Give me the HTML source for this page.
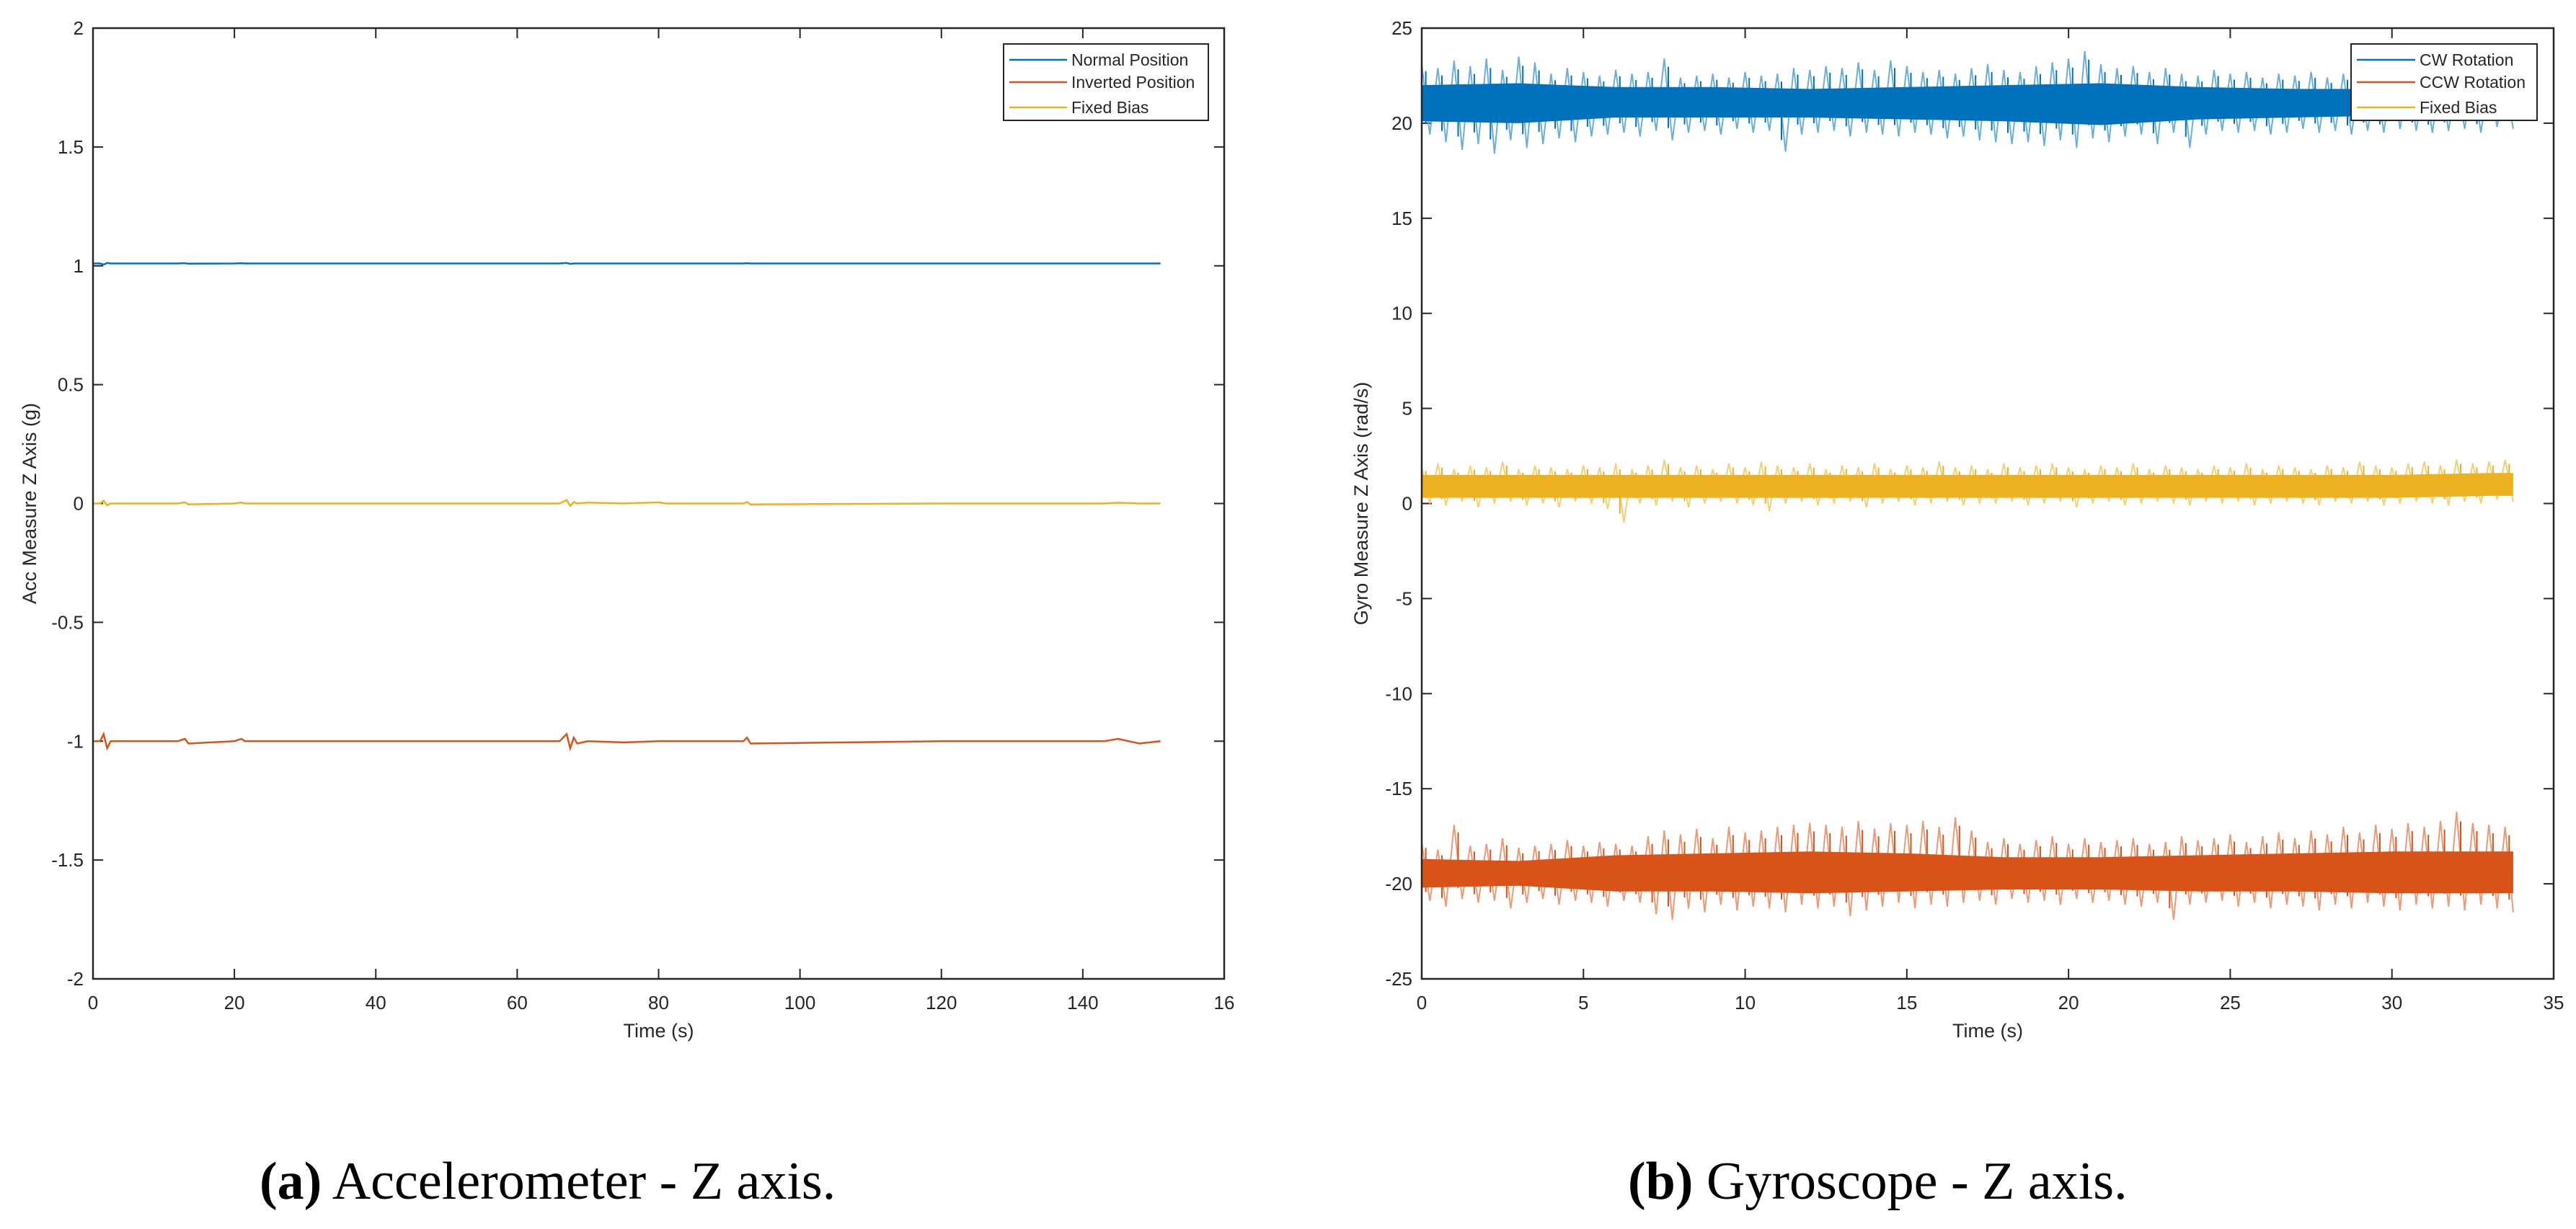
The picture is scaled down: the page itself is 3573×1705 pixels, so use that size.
<!DOCTYPE html>
<html><head><meta charset="utf-8"><style>
html,body{margin:0;padding:0;background:#fff;}
svg{display:block;}
text{font-family:"Liberation Sans",Arial,sans-serif;fill:#262626;}
.cap{font-family:"Liberation Serif",serif;fill:#000;font-size:74px;}
</style></head><body>
<svg id="fig" width="3573" height="1705" viewBox="0 0 3573 1705" xmlns="http://www.w3.org/2000/svg"></svg>
<script>
// ---------- Panel (a) data ----------
const accXTicks=[0,20,40,60,80,100,120,140,160];
const accXTickLabels=["0","20","40","60","80","100","120","140","16"];
const accYTicks=[-2,-1.5,-1,-0.5,0,0.5,1,1.5,2];
const accYTickLabels=["-2","-1.5","-1","-0.5","0","0.5","1","1.5","2"];
const accTimes=[0,1,1.5,2,2.5,12,13,13.5,20,21,21.5,40,66,67,67.5,68,68.5,70,75,80,81,92,92.5,93,120,143,145,148,151];
const accNormal=[1.01,1.01,1.005,1.012,1.01,1.01,1.011,1.009,1.01,1.011,1.01,1.01,1.01,1.012,1.008,1.01,1.01,1.01,1.01,1.01,1.01,1.01,1.011,1.01,1.01,1.01,1.01,1.01,1.01];
const accInverted=[-1.0,-1.0,-0.97,-1.03,-1.0,-1.0,-0.99,-1.01,-1.0,-0.99,-1.0,-1.0,-1.0,-0.97,-1.03,-0.985,-1.01,-1.0,-1.005,-1.0,-1.0,-1.0,-0.985,-1.01,-1.0,-1.0,-0.99,-1.01,-1.0];
const accBias=[0,0,0.012,-0.008,0,0,0.005,-0.004,0,0.004,0,0,0,0.015,-0.01,0.006,0,0.004,0,0.005,0,0,0.006,-0.004,0,0,0.003,0,0];

// ---------- Panel (b) data ----------
const gyrXTicks=[0,5,10,15,20,25,30,35];
const gyrXTickLabels=["0","5","10","15","20","25","30","35"];
const gyrYTicks=[-25,-20,-15,-10,-5,0,5,10,15,20,25];
const gyrYTickLabels=["-25","-20","-15","-10","-5","0","5","10","15","20","25"];
const gyrDT=0.5;
const cwHi=[23.1,22.9,23.3,23.0,23.4,22.8,23.5,23.2,22.6,22.9,22.7,22.5,22.8,22.6,22.7,23.4,22.4,22.5,22.6,22.4,22.7,22.5,22.6,22.9,22.8,23.0,22.9,23.2,22.8,23.3,23.0,22.7,22.8,22.6,22.9,23.1,22.8,22.7,23.0,23.2,23.4,23.8,23.1,22.9,23.0,22.7,22.9,22.6,22.5,22.8,22.6,22.7,22.4,22.6,22.5,22.7,22.4,22.6,22.5,22.4,22.7,22.5,22.3,22.6,22.4,22.5,22.3,22.4];
const cwLo=[19.4,19.0,18.6,18.9,18.4,19.1,18.7,18.9,19.2,19.0,19.3,19.4,19.5,19.3,19.6,19.1,19.5,19.6,19.4,19.7,19.5,19.6,18.5,19.4,19.5,19.6,19.3,19.5,19.4,19.3,19.5,19.4,19.2,19.3,19.1,19.0,18.9,19.0,18.8,19.1,18.7,19.2,19.0,19.3,19.4,18.9,19.5,18.7,19.4,19.6,19.5,19.6,19.4,19.5,19.7,19.5,19.6,19.4,19.6,19.5,19.7,19.6,19.5,19.6,19.7,19.5,19.8,19.7];
const ccwHi=[-17.8,-18.2,-16.9,-18.0,-17.9,-17.6,-18.1,-18.0,-17.9,-17.7,-18.0,-17.8,-17.9,-18.0,-17.5,-17.2,-17.4,-17.1,-17.6,-17.0,-17.3,-17.2,-17.0,-16.9,-16.8,-16.9,-17.0,-16.7,-17.1,-16.8,-16.9,-16.7,-17.0,-16.5,-17.2,-17.8,-17.6,-17.9,-17.7,-17.5,-17.9,-17.6,-17.8,-17.7,-17.6,-17.9,-17.8,-17.5,-17.7,-17.6,-17.4,-17.8,-17.5,-17.3,-17.6,-17.2,-17.4,-17.0,-17.3,-16.9,-17.1,-16.8,-17.0,-16.7,-16.2,-16.8,-16.9,-17.0];
const ccwLo=[-20.9,-21.2,-20.8,-21.0,-20.9,-21.3,-21.0,-20.8,-21.1,-20.9,-21.0,-21.2,-20.9,-21.0,-21.6,-21.9,-21.3,-21.5,-21.1,-21.4,-21.2,-21.3,-21.5,-21.1,-21.3,-21.2,-21.7,-21.4,-21.2,-21.0,-21.3,-21.1,-21.2,-21.0,-20.9,-21.1,-20.8,-21.0,-20.9,-21.1,-20.8,-21.0,-20.9,-21.1,-21.2,-21.0,-21.9,-21.1,-21.0,-20.9,-21.2,-21.0,-21.3,-21.1,-21.2,-21.4,-21.1,-21.3,-21.0,-21.2,-21.4,-21.1,-21.3,-21.2,-21.4,-21.1,-21.3,-21.5];
const biasHi=[1.9,2.1,1.8,2.0,1.9,2.2,1.8,2.0,1.9,1.8,2.0,1.9,2.1,1.8,2.0,2.3,1.9,2.0,1.8,2.1,1.9,2.2,2.0,1.9,2.1,1.8,2.0,1.9,2.1,1.8,2.0,1.9,2.2,1.9,2.0,1.8,2.1,1.9,2.0,2.1,1.9,1.8,2.0,1.9,2.1,1.8,2.0,1.9,1.8,2.0,1.9,2.1,1.8,2.0,1.9,1.8,2.0,1.9,2.2,2.0,1.9,2.1,2.2,2.0,2.3,2.1,2.2,2.3];
const biasLo=[0.0,-0.1,0.1,-0.2,0.0,0.1,-0.1,0.0,-0.2,0.1,0.0,-0.3,-1.0,0.0,-0.1,0.1,-0.2,0.0,0.1,0.0,-0.1,-0.4,0.0,0.1,-0.1,0.0,0.1,-0.2,0.0,0.1,-0.1,0.0,0.1,-0.1,0.0,0.0,0.1,-0.1,0.0,0.1,-0.2,0.0,0.1,-0.1,0.0,0.1,0.0,-0.1,0.1,0.0,0.1,-0.1,0.0,0.1,0.0,-0.1,0.1,0.0,0.1,-0.1,0.0,0.1,0.0,-0.1,0.1,0.0,0.2,0.1];
const coreDT=3;
const cwCoreHi=[22.0,22.1,21.9,21.9,21.8,21.9,22.0,22.1,21.9,21.8,21.8,21.8];
const cwCoreLo=[20.1,20.0,20.3,20.3,20.3,20.2,20.1,19.9,20.2,20.3,20.4,20.4];
const ccwCoreHi=[-18.7,-18.8,-18.5,-18.4,-18.3,-18.4,-18.6,-18.6,-18.5,-18.4,-18.3,-18.3];
const ccwCoreLo=[-20.2,-20.1,-20.4,-20.4,-20.5,-20.4,-20.3,-20.3,-20.4,-20.4,-20.5,-20.5];
const biasCoreHi=[1.5,1.5,1.5,1.5,1.5,1.5,1.5,1.5,1.5,1.5,1.5,1.6];
const biasCoreLo=[0.3,0.3,0.3,0.3,0.3,0.3,0.3,0.3,0.3,0.3,0.3,0.4];

const NS="http://www.w3.org/2000/svg";
const svg=document.getElementById('fig');
function mk(tag,attrs,parent){const e=document.createElementNS(NS,tag);for(const k in attrs)e.setAttribute(k,attrs[k]);(parent||svg).appendChild(e);return e;}
const C_BLUE="#0072BD",C_RED="#D95319",C_YEL="#EDB120";

function axes(P,xt,xtl,yt,ytl,xlabel,ylabel,ylx,name){
  const g=mk('g',{});
  
  
  const sx=v=>P.l+(v-P.x0)/(P.x1-P.x0)*(P.r-P.l);
  const sy=v=>P.b-(v-P.y0)/(P.y1-P.y0)*(P.b-P.t);
  P.sx=sx;P.sy=sy;P.g=g;
  xt.forEach((v,i)=>{const x=sx(v);
    const t1=mk('line',{x1:x,x2:x,y1:P.b,y2:P.b-14,stroke:'#262626','stroke-width':2},g);
    
    mk('line',{x1:x,x2:x,y1:P.t,y2:P.t+14,stroke:'#262626','stroke-width':2},g);
    const t=mk('text',{x:x,y:P.b+42,'text-anchor':'middle','font-size':26},g);t.textContent=xtl[i];
    });
  yt.forEach((v,i)=>{const y=sy(v);
    const t1=mk('line',{x1:P.l,x2:P.l+14,y1:y,y2:y,stroke:'#262626','stroke-width':2},g);
    
    mk('line',{x1:P.r,x2:P.r-14,y1:y,y2:y,stroke:'#262626','stroke-width':2},g);
    const t=mk('text',{x:P.l-13,y:y+9,'text-anchor':'end','font-size':26},g);t.textContent=ytl[i];
    });
  const xl=mk('text',{x:(P.l+P.r)/2,y:P.b+81,'text-anchor':'middle','font-size':27},g);xl.textContent=xlabel;
  
  const yl=mk('text',{x:ylx,y:(P.t+P.b)/2,'text-anchor':'middle','font-size':27,transform:`rotate(-90 ${ylx} ${(P.t+P.b)/2})`},g);yl.textContent=ylabel;
  
}
function box(P){const r=mk('rect',{x:P.l,y:P.t,width:P.r-P.l,height:P.b-P.t,fill:'none',stroke:'#262626','stroke-width':2.5},P.g);
  }
function legend(P,x,y,w,h,labels,colors,lineW,name){
  const g=mk('g',{},P.g);
  
  
  mk('rect',{x:x,y:y,width:w,height:h,fill:'#fff',stroke:'#262626','stroke-width':2},g);
  const rows=[22,53,88];
  labels.forEach((lb,i)=>{
    const l=mk('line',{x1:x+8,x2:x+8+lineW,y1:y+rows[i],y2:y+rows[i],stroke:colors[i],'stroke-width':2.5},g);
    
    const t=mk('text',{x:x+lineW+14,y:y+rows[i]+8,'font-size':23,fill:'#000'},g);t.textContent=lb;
    
  });
}

// Panel a
const PA={l:129,r:1698,t:39,b:1358,x0:0,x1:160,y0:-2,y1:2};
axes(PA,accXTicks,accXTickLabels,accYTicks,accYTickLabels,"Time (s)","Acc Measure Z Axis (g)",50,"accelerometer-chart");
[[accNormal,C_BLUE,'normal-position-line'],[accInverted,C_RED,'inverted-position-line'],[accBias,C_YEL,'fixed-bias-line']].forEach(([arr,c,n])=>{
  const d=arr.map((v,i)=>(i?'L':'M')+PA.sx(accTimes[i]).toFixed(1)+' '+PA.sy(v).toFixed(1)).join(' ');
  const p=mk('path',{d:d,fill:'none',stroke:c,'stroke-width':2.5},PA.g);
  
});
box(PA);
legend(PA,1392,61,284,106,["Normal Position","Inverted Position","Fixed Bias"],[C_BLUE,C_RED,C_YEL],80,"accelerometer-legend");

// Panel b
const PB={l:1972,r:3542,t:39,b:1358,x0:0,x1:35,y0:-25,y1:25};
axes(PB,gyrXTicks,gyrXTickLabels,gyrYTicks,gyrYTickLabels,"Time (s)","Gyro Measure Z Axis (rad/s)",1897,"gyroscope-chart");
const LIGHT={"#0072BD":"#6aaedb","#D95319":"#eb9a76","#EDB120":"#f4cf72"};
function gyroSeries(hi,lo,cHi,cLo,c,n){
  const g=mk('g',{},PB.g);
  
  
  const N=Math.min(hi.length,lo.length);
  let d='';
  for(let i=0;i<N;i++){
    const t=i*gyrDT;
    d+=(i?'L':'M')+PB.sx(t).toFixed(1)+' '+PB.sy(hi[i]).toFixed(1)+' L'+PB.sx(t+gyrDT/2).toFixed(1)+' '+PB.sy(lo[i]).toFixed(1)+' ';
  }
  const p=mk('path',{d:d,fill:'none',stroke:LIGHT[c],'stroke-width':2},g);
  
  
  const tEnd=(N-1)*gyrDT+gyrDT/2;
  const M=cHi.length;
  const xs=cHi.map((_,i)=>Math.min(i*coreDT,tEnd));
  let top=cHi.map((v,i)=>PB.sx(xs[i]).toFixed(1)+','+PB.sy(v).toFixed(1));
  top.push(PB.sx(tEnd).toFixed(1)+','+PB.sy(cHi[M-1]).toFixed(1));
  let bot=[PB.sx(tEnd).toFixed(1)+','+PB.sy(cLo[M-1]).toFixed(1)];
  for(let i=M-1;i>=0;i--)bot.push(PB.sx(xs[i]).toFixed(1)+','+PB.sy(cLo[i]).toFixed(1));
  const poly=mk('polygon',{points:top.concat(bot).join(' '),fill:c},g);
  
  
  let d2='';
  for(let i=0;i<N;i++){
    const t=i*gyrDT+gyrDT/4;
    const mid=(hi[i]+lo[i])/2;
    d2+='M'+PB.sx(t).toFixed(1)+' '+PB.sy(mid+(hi[i]-mid)*0.8).toFixed(1)+' L'+PB.sx(t).toFixed(1)+' '+PB.sy(mid-(mid-lo[i])*0.7).toFixed(1)+' ';
  }
  const p2=mk('path',{d:d2,fill:'none',stroke:c,'stroke-width':2},g);
  
  
}
gyroSeries(cwHi,cwLo,cwCoreHi,cwCoreLo,C_BLUE,'cw-rotation-series');
gyroSeries(ccwHi,ccwLo,ccwCoreHi,ccwCoreLo,C_RED,'ccw-rotation-series');
gyroSeries(biasHi,biasLo,biasCoreHi,biasCoreLo,C_YEL,'fixed-bias-series');
box(PB);
legend(PB,3261,61,258,106,["CW Rotation","CCW Rotation","Fixed Bias"],[C_BLUE,C_RED,C_YEL],81,"gyroscope-legend");

// Captions
const ca=mk('text',{x:360,y:1663,class:'cap'});


ca.innerHTML='<tspan font-weight="bold">(a)</tspan> Accelerometer - Z axis.';
const cb=mk('text',{x:2258,y:1663,class:'cap'});


cb.innerHTML='<tspan font-weight="bold">(b)</tspan> Gyroscope - Z axis.';
</script>
</body></html>
